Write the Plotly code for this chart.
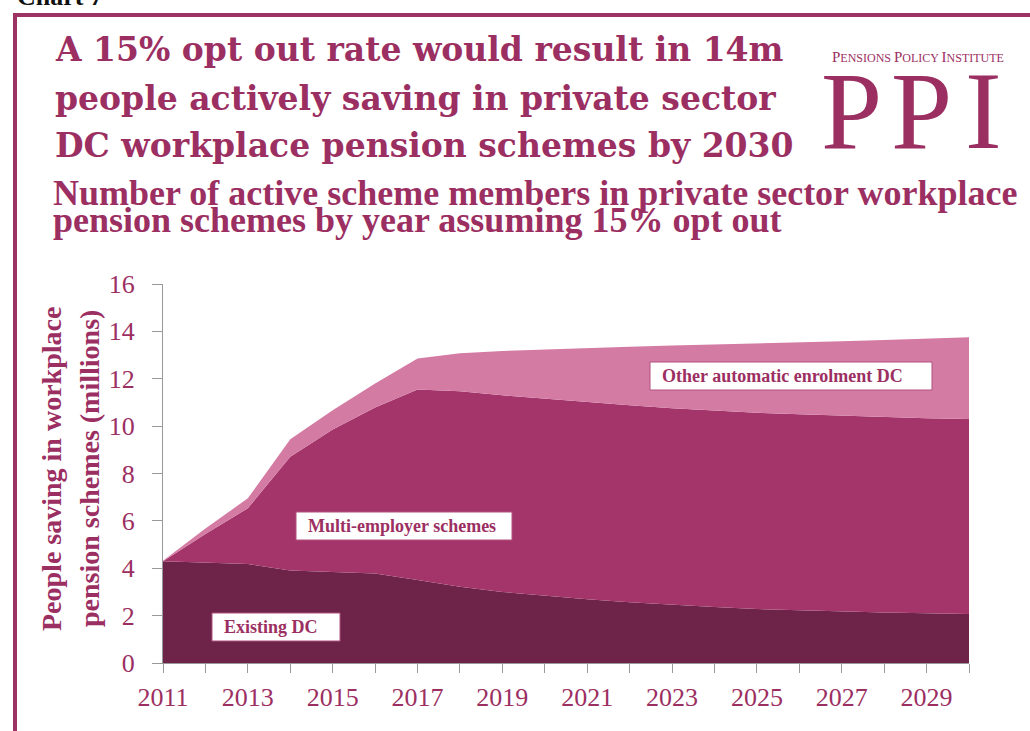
import plotly.graph_objects as go

# Years and active members (millions) by scheme type, 15% opt-out scenario
years = list(range(2011, 2031))
existing_dc = [4.30, 4.25, 4.18, 3.90, 3.85, 3.78, 3.50, 3.22, 3.00, 2.83,
               2.69, 2.56, 2.45, 2.36, 2.28, 2.22, 2.17, 2.13, 2.10, 2.07]
multi_employer = [0.00, 1.20, 2.35, 4.81, 6.01, 7.01, 8.05, 8.25, 8.30, 8.32,
                  8.31, 8.32, 8.30, 8.29, 8.28, 8.28, 8.27, 8.25, 8.23, 8.23]
other_auto_enrol = [0.02, 0.23, 0.42, 0.74, 0.81, 1.01, 1.31, 1.61, 1.87, 2.09,
                    2.30, 2.47, 2.65, 2.79, 2.92, 3.03, 3.14, 3.26, 3.37, 3.45]

series_names = ["Existing DC", "Multi-employer schemes", "Other automatic enrolment DC"]
series_values = [existing_dc, multi_employer, other_auto_enrol]
series_colors = ["#6E2449", "#A4356B", "#D47BA4"]

x_tick_vals = list(range(2011, 2031, 2))
y_tick_vals = list(range(0, 17, 2))

MAROON = "#9C2F62"
SERIF = "Liberation Serif"

W, H = 1030, 731
L, R, T, B = 163, 61, 284, 68
PW, PH = W - L - R, H - T - B


def px_x(p):
    return (p - L) / PW


def px_y(p):
    return (H - B - p) / PH


fig = go.Figure()
for name, vals, col in zip(series_names, series_values, series_colors):
    fig.add_trace(go.Scatter(
        x=years, y=vals, name=name, mode="lines",
        stackgroup="members", line=dict(width=0, color=col),
        fillcolor=col, hoverinfo="x+y+name",
    ))

annotations = []
shapes = []

# Heading lines
for text, cy in [("A 15% opt out rate would result in 14m", 50),
                 ("people actively saving in private sector", 99),
                 ("DC workplace pension schemes by 2030", 145)]:
    annotations.append(dict(
        text=text, xref="paper", yref="paper", x=px_x(53), y=px_y(cy),
        xanchor="left", yanchor="middle", showarrow=False,
        font=dict(family="DejaVu Serif", size=33, color=MAROON, weight="bold"),
    ))

for text, cy in [("Number of active scheme members in private sector workplace", 193),
                 ("pension schemes by year assuming 15% opt out", 220)]:
    annotations.append(dict(
        text=text, xref="paper", yref="paper", x=px_x(51), y=px_y(cy),
        xanchor="left", yanchor="middle", showarrow=False,
        font=dict(family=SERIF, size=36, color=MAROON, weight="bold"),
    ))

# Partially visible caption at the very top
annotations.append(dict(
    text="Chart 7", xref="paper", yref="paper", x=px_x(15), y=px_y(-4),
    xanchor="left", yanchor="middle", showarrow=False,
    font=dict(family=SERIF, size=26, color="#111111", weight="bold"),
))

# Institute logo
annotations.append(dict(
    text=("<span style='font-size:15px'>P</span>ENSIONS "
          "<span style='font-size:15px'>P</span>OLICY "
          "<span style='font-size:15px'>I</span>NSTITUTE"),
    xref="paper", yref="paper", x=px_x(918), y=px_y(57),
    xanchor="center", yanchor="middle", showarrow=False,
    font=dict(family=SERIF, size=12, color=MAROON),
))
for letter, cx in [("P", 851), ("P", 921), ("I", 983)]:
    annotations.append(dict(
        text=letter, xref="paper", yref="paper", x=px_x(cx), y=px_y(111),
        xanchor="center", yanchor="middle", showarrow=False,
        font=dict(family=SERIF, size=110, color=MAROON),
    ))

# Y axis title, two rotated lines
for text, cx in [("People saving in workplace", 51),
                 ("pension schemes (millions)", 89)]:
    annotations.append(dict(
        text=text, xref="paper", yref="paper", x=px_x(cx), y=px_y(469),
        xanchor="center", yanchor="middle", textangle=-90, showarrow=False,
        font=dict(family=SERIF, size=28, color=MAROON, weight="bold"),
    ))

# Series labels in white boxes
for text, x0, x1, y0, y1 in [("Other automatic enrolment DC", 650, 932, 362, 390),
                             ("Multi-employer schemes", 296, 512, 512, 540),
                             ("Existing DC", 212, 340, 613, 641)]:
    shapes.append(dict(
        type="rect", xref="paper", yref="paper",
        x0=px_x(x0), x1=px_x(x1), y0=px_y(y1), y1=px_y(y0),
        line=dict(color="#B0507E", width=1), fillcolor="white", layer="above",
    ))
    annotations.append(dict(
        text=text, xref="paper", yref="paper",
        x=px_x(x0 + 10), y=px_y((y0 + y1) / 2), xanchor="left", yanchor="middle",
        showarrow=False,
        font=dict(family=SERIF, size=18, color=MAROON, weight="bold"),
    ))

shapes.append(dict(
    type="rect", xref="paper", yref="paper",
    x0=px_x(15), x1=px_x(1200), y0=px_y(900), y1=px_y(15),
    line=dict(color="#9E3265", width=4), fillcolor="rgba(0,0,0,0)", layer="below",
))

fig.update_layout(
    width=W, height=H,
    margin=dict(l=L, r=R, t=T, b=B),
    paper_bgcolor="white", plot_bgcolor="white",
    showlegend=False,
    annotations=annotations, shapes=shapes,
    xaxis=dict(
        range=[2011, 2030], tickvals=x_tick_vals, ticktext=[str(v) for v in x_tick_vals],
        ticks="outside", ticklen=9, tickcolor="#999999", tickwidth=1,
        minor=dict(dtick=1, tick0=2011, ticks="outside", ticklen=9,
                   tickcolor="#999999", tickwidth=1),
        showline=True, linecolor="#999999", linewidth=1,
        showgrid=False, zeroline=False, ticklabelstandoff=2,
        tickfont=dict(family=SERIF, size=26, color=MAROON),
    ),
    yaxis=dict(
        range=[0, 16], tickvals=y_tick_vals,
        ticks="outside", ticklen=10, tickcolor="#999999", tickwidth=1,
        showline=True, linecolor="#999999", linewidth=1,
        showgrid=False, zeroline=False, ticklabelstandoff=12,
        tickfont=dict(family=SERIF, size=26, color=MAROON),
    ),
)

fig.write_html("out.html")
